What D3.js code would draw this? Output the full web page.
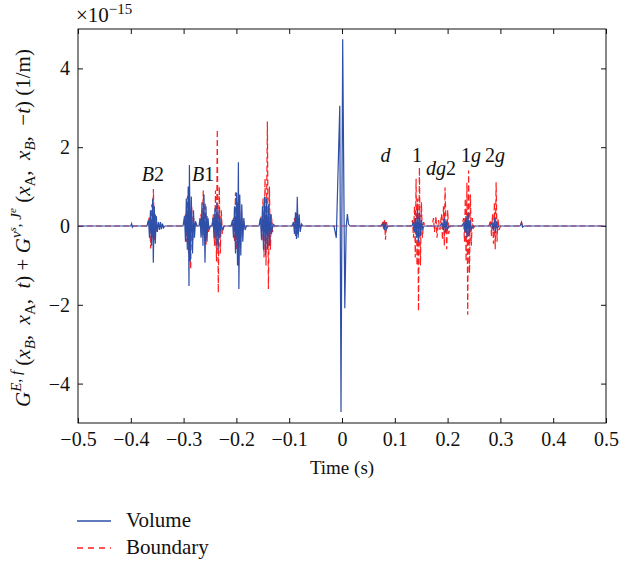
<!DOCTYPE html>
<html>
<head>
<meta charset="utf-8">
<script src="https://cdn.jsdelivr.net/npm/d3@7/dist/d3.min.js"></script>
<style>
  body { margin: 0; background: #fff; }
  svg text { font-family: "Liberation Serif", "Times New Roman", serif; fill: #111; }
</style>
</head>
<body>
<div id="chart"></div>
<script>
// time (s), amplitude (x1e-15 1/m)
var volume = [
  [-0.5, 0],
  [-0.4000, 0], [-0.3985, 0.06], [-0.3970, -0.03], [-0.3955, 0],
  // B2
  [-0.3693, 0], [-0.3665, 0.15], [-0.3646, -0.3], [-0.3627, 0.4], [-0.3608, -0.5], [-0.3585, 0.70], [-0.3574, -0.93],
  [-0.3555, 0.5], [-0.3536, -0.45], [-0.3517, 0.25], [-0.3498, -0.15], [-0.3475, 0.1], [-0.3456, -0.1], [-0.3438, 0.1],
  [-0.3419, -0.08], [-0.3400, 0.06], [-0.3381, -0.05], [-0.3352, 0],
  [-0.3011, 0], [-0.2983, 0.25], [-0.2964, -0.4], [-0.2949, 0.7], [-0.2930, -0.6], [-0.2913, 1.0], [-0.2898, -1.52],
  [-0.2890, 1.55], [-0.2873, -0.9], [-0.2854, 0.75], [-0.2831, -0.7], [-0.2813, 0.4], [-0.2794, -0.3], [-0.2775, 0.12], [-0.2746, 0],
  // B1
  [-0.2708, 0], [-0.2689, 0.2], [-0.2670, -0.3], [-0.2652, 0.6], [-0.2633, -0.5], [-0.2614, 0.8], [-0.2595, -0.93],
  [-0.2576, 0.5], [-0.2557, -0.4], [-0.2538, 0.2], [-0.2519, -0.1], [-0.2491, 0],
  [-0.2462, 0], [-0.2443, 0.2], [-0.2424, -0.3], [-0.2405, 0.45], [-0.2386, -0.5], [-0.2367, 0.6], [-0.2348, -0.6],
  [-0.2330, 0.4], [-0.2311, -0.3], [-0.2292, 0.2], [-0.2273, -0.1], [-0.2235, 0],
  [-0.2102, 0], [-0.2074, 0.15], [-0.2055, -0.3], [-0.2036, 0.5], [-0.2017, -0.7], [-0.1998, 0.85], [-0.1979, -1.0],
  [-0.1962, 1.62], [-0.1953, -1.6], [-0.1936, 0.8], [-0.1917, -0.75], [-0.1898, 0.55], [-0.1879, -0.4], [-0.1860, 0.2],
  [-0.1837, -0.1], [-0.1809, 0],
  [-0.1572, 0], [-0.1544, 0.2], [-0.1525, -0.35], [-0.1506, 0.5], [-0.1487, -0.6], [-0.1468, 0.75], [-0.1449, -0.75],
  [-0.1430, 0.7], [-0.1411, -0.6], [-0.1392, 0.55], [-0.1373, -0.5], [-0.1354, 0.3], [-0.1335, -0.2], [-0.1307, 0.05], [-0.1269, 0],
  [-0.0947, 0], [-0.0919, 0.1], [-0.0900, -0.2], [-0.0881, 0.35], [-0.0862, -0.33], [-0.0847, 0.74], [-0.0830, -0.3],
  [-0.0811, 0.3], [-0.0792, -0.15], [-0.0767, 0.05], [-0.0739, 0],
  // direct arrival
  [-0.0152, 0], [-0.0108, -0.3], [-0.0042, 3.05], [-0.0019, -4.72], [0.0013, 4.74], [0.0053, -2.09], [0.0080, 0],
  [0.0102, 0.3], [0.0123, 0.05], [0.0152, 0],
  // d
  [0.0758, 0], [0.0786, 0.08], [0.0805, -0.1], [0.0824, 0.1], [0.0843, -0.08], [0.0871, 0],
  // 1
  [0.1326, 0], [0.1354, 0.1], [0.1373, -0.15], [0.1392, 0.2], [0.1411, -0.3], [0.1430, 0.43], [0.1449, -0.42],
  [0.1468, 0.35], [0.1487, -0.25], [0.1506, 0.15], [0.1525, -0.08], [0.1553, 0],
  // dg2
  [0.1856, 0], [0.1894, 0.08], [0.1922, -0.1], [0.1941, 0.2], [0.1960, -0.17], [0.1979, 0.12], [0.1998, -0.08], [0.2027, 0],
  // 1g
  [0.2273, 0], [0.2311, 0.1], [0.2330, -0.15], [0.2348, 0.25], [0.2367, -0.3], [0.2386, 0.34], [0.2405, -0.25],
  [0.2424, 0.15], [0.2443, -0.1], [0.2481, 0],
  // 2g
  [0.2803, 0], [0.2841, 0.08], [0.2869, -0.12], [0.2888, 0.2], [0.2907, -0.18], [0.2926, 0.12], [0.2945, -0.05], [0.2973, 0],
  [0.3371, 0], [0.3400, 0.08], [0.3419, -0.03], [0.3447, 0],
  [0.5, 0]
];

var boundary = [
  [-0.5, 0],
  [-0.3684, 0], [-0.3646, 0.25], [-0.3623, -0.57], [-0.3602, 0.55], [-0.3587, -0.3], [-0.3572, 0.94], [-0.3553, -0.35],
  [-0.3534, 0.3], [-0.3515, -0.15], [-0.3494, 0.05], [-0.3466, 0],
  [-0.2992, 0], [-0.2964, 0.3], [-0.2945, -0.4], [-0.2926, 0.76], [-0.2907, -0.7], [-0.2888, 0.6], [-0.2866, -1.1],
  [-0.2847, 0.5], [-0.2828, -0.4], [-0.2809, 0.2], [-0.2784, 0],
  [-0.2699, 0], [-0.2670, 0.3], [-0.2652, -0.25], [-0.2627, 0.9], [-0.2608, -0.3], [-0.2591, 0.6], [-0.2574, -0.47],
  [-0.2553, 0.25], [-0.2532, -0.15], [-0.2500, 0],
  [-0.2462, 0], [-0.2434, 0.3], [-0.2415, -0.5], [-0.2396, 0.9], [-0.2377, -0.9], [-0.2362, 2.45], [-0.2343, -1.69],
  [-0.2324, 1.0], [-0.2305, -0.7], [-0.2286, 0.4], [-0.2267, -0.2], [-0.2235, 0],
  [-0.2083, 0], [-0.2055, 0.2], [-0.2036, -0.4], [-0.2017, 0.85], [-0.1998, -0.6], [-0.1979, 0.6], [-0.1960, -1.0],
  [-0.1941, 0.5], [-0.1922, -0.4], [-0.1903, 0.2], [-0.1875, 0],
  [-0.1563, 0], [-0.1534, 0.25], [-0.1515, -0.4], [-0.1496, 0.7], [-0.1477, -0.8], [-0.1458, 1.2], [-0.1439, -1.0],
  [-0.1413, 2.65], [-0.1394, -1.6], [-0.1375, 1.0], [-0.1356, -0.6], [-0.1337, 0.3], [-0.1316, -0.15], [-0.1288, 0],
  [-0.0928, 0], [-0.0900, 0.2], [-0.0881, -0.25], [-0.0862, 0.35], [-0.0843, -0.2], [-0.0824, 0.15], [-0.0795, 0],
  [0.0739, 0], [0.0767, 0.12], [0.0786, -0.1], [0.0805, 0.15], [0.0824, -0.35], [0.0843, 0.1], [0.0862, -0.05], [0.0890, 0],
  [0.1307, 0], [0.1335, 0.15], [0.1354, -0.3], [0.1373, 0.5], [0.1388, -0.8], [0.1403, 1.2], [0.1420, -1.0],
  [0.1434, 0.7], [0.1449, -2.16], [0.1466, 1.49], [0.1485, -1.0], [0.1504, 0.6], [0.1523, -0.3], [0.1544, 0.1], [0.1572, 0],
  [0.1705, 0], [0.1733, 0.2], [0.1752, -0.15], [0.1780, 0.25], [0.1799, -0.3], [0.1828, 0.15], [0.1856, -0.1],
  [0.1884, 0.3], [0.1903, -0.35], [0.1922, 0.5], [0.1938, -0.5], [0.1951, 0.98], [0.1983, -0.59], [0.2002, 0.4],
  [0.2021, -0.2], [0.2045, 0],
  [0.2273, 0], [0.2301, 0.2], [0.2320, -0.4], [0.2335, 0.7], [0.2350, -0.9], [0.2366, 1.1], [0.2381, -2.25],
  [0.2398, 1.41], [0.2415, -1.2], [0.2432, 0.8], [0.2449, -0.5], [0.2468, 0.2], [0.2491, -0.05], [0.2519, 0],
  [0.2784, 0], [0.2813, 0.15], [0.2831, -0.25], [0.2850, 0.3], [0.2869, -0.45], [0.2886, 0.6], [0.2902, -0.59],
  [0.2919, 1.11], [0.2936, -0.4], [0.2955, 0.2], [0.2973, -0.1], [0.3002, 0],
  [0.3371, 0], [0.3400, 0.1], [0.3419, 0],
  [0.5, 0]
];

var xTicks = [-0.5, -0.4, -0.3, -0.2, -0.1, 0, 0.1, 0.2, 0.3, 0.4, 0.5];
var yTicks = [-4, -2, 0, 2, 4];

// event labels: [main text, tail text, t, amplitude]
var events = [
  ["B", "2", -0.358, 1.15],
  ["B", "1", -0.263, 1.15],
  ["d", "", 0.0824, 1.63],
  ["", "1", 0.142, 1.63],
  ["dg", "2", 0.1875, 1.30],
  ["1", "g", 0.2443, 1.63],
  ["2", "g", 0.290, 1.63]
];

var legendItems = ["Volume", "Boundary"];

(function() {
  var width = 620,
      height = 563;
  var pl = 78, pr = 606, pt = 29, pb = 423;

  var x = d3.scaleLinear().domain([-0.5, 0.5]).range([pl, pr]);
  var y = d3.scaleLinear().domain([-5, 5]).range([pb, pt]);

  var svg = d3.select("#chart").append("svg")
    .attr("width", width)
    .attr("height", height);

  var line = d3.line()
    .x(function(d) { return x(d[0]); })
    .y(function(d) { return y(d[1]); });

  var fmtX = function(d) { return d === 0 ? "0" : d3.format(".1f")(d); };

  // axes, MATLAB style: ticks inside, box on
  var tickLen = 5;
  svg.append("g")
    .attr("transform", "translate(0," + pb + ")")
    .call(d3.axisBottom(x).tickValues(xTicks).tickSizeInner(-tickLen).tickSizeOuter(0).tickPadding(9).tickFormat(fmtX))
    .call(function(g) { g.select(".domain").remove(); })
    .selectAll("text").style("font-size", "20px").attr("fill", "#111");

  svg.append("g")
    .attr("transform", "translate(0," + pt + ")")
    .call(d3.axisTop(x).tickValues(xTicks).tickSizeInner(-tickLen).tickSizeOuter(0).tickFormat(""))
    .call(function(g) { g.select(".domain").remove(); });

  svg.append("g")
    .attr("transform", "translate(" + pl + ",0)")
    .call(d3.axisLeft(y).tickValues(yTicks).tickSizeInner(-tickLen).tickSizeOuter(0).tickPadding(8).tickFormat(d3.format("d")))
    .call(function(g) { g.select(".domain").remove(); })
    .selectAll("text").style("font-size", "20px").attr("fill", "#111");

  svg.append("g")
    .attr("transform", "translate(" + pr + ",0)")
    .call(d3.axisRight(y).tickValues(yTicks).tickSizeInner(-tickLen).tickSizeOuter(0).tickFormat(""))
    .call(function(g) { g.select(".domain").remove(); });

  svg.selectAll(".tick line").attr("stroke", "#111");

  // data lines
  var plot = svg.append("g");

  plot.append("path")
    .datum(boundary)
    .attr("fill", "none")
    .attr("stroke", "#ff1f1f")
    .attr("stroke-width", 1.2)
    .attr("stroke-dasharray", "6,3")
    .attr("d", line);

  plot.append("path")
    .datum(volume)
    .attr("fill", "none")
    .attr("stroke", "#2e4fa8")
    .attr("stroke-width", 1.2)
    .attr("d", line);

  svg.append("rect")
    .attr("x", pl).attr("y", pt)
    .attr("width", pr - pl).attr("height", pb - pt)
    .attr("fill", "none").attr("stroke", "#111").attr("stroke-width", 1);

  // event labels
  var lab = svg.append("g").selectAll("text")
    .data(events)
    .enter().append("text")
    .attr("x", function(d) { return x(d[2]); })
    .attr("y", function(d) { return y(d[3]); })
    .attr("text-anchor", "middle")
    .style("font-size", "20px");
  lab.append("tspan")
    .style("font-style", function(d) { return /[A-Za-z]/.test(d[0]) ? "italic" : "normal"; })
    .text(function(d) { return d[0]; });
  lab.append("tspan")
    .style("font-style", function(d) { return /[A-Za-z]/.test(d[1]) ? "italic" : "normal"; })
    .text(function(d) { return d[1]; });

  // exponent
  var ex = svg.append("text").attr("x", pl - 2).attr("y", 22).style("font-size", "21px");
  ex.append("tspan").text("×10");
  ex.append("tspan").attr("dy", -8).style("font-size", "15px").text("−15");

  // x label
  svg.append("text")
    .attr("x", x(0)).attr("y", 474)
    .attr("text-anchor", "middle")
    .style("font-size", "19px")
    .text("Time (s)");

  // y label with sub/superscripts
  var yl = svg.append("text")
    .attr("transform", "translate(30," + ((pt + pb) / 2 + 2) + ") rotate(-90)")
    .attr("text-anchor", "middle")
    .style("font-size", "21px");

  var parts = [
    ["G", "i", 0, 21], ["E", "i", -9, 15], [", ", "n", 0, 15], ["f", "i", 0, 15], [" (", "n", 9, 21],
    ["x", "i", 0, 21], ["B", "i", 5, 15], [",  ", "n", -5, 21], ["x", "i", 0, 21], ["A", "n", 5, 15],
    [",  ", "n", -5, 21], ["t", "i", 0, 21], [") + ", "n", 0, 21],
    ["G", "i", 0, 21], ["v", "i", -9, 15], ["s", "i", -5, 11], [", ", "n", 5, 15], ["J", "i", 0, 15], ["e", "i", -5, 11],
    [" (", "n", 14, 21], ["x", "i", 0, 21], ["A", "n", 5, 15], [",  ", "n", -5, 21], ["x", "i", 0, 21], ["B", "i", 5, 15],
    [",  −", "n", -5, 21], ["t", "i", 0, 21], [") (1/m)", "n", 0, 21]
  ];
  parts.forEach(function(p) {
    yl.append("tspan")
      .attr("dy", p[2])
      .style("font-style", p[1] === "i" ? "italic" : "normal")
      .style("font-size", p[3] + "px")
      .style("white-space", "pre")
      .text(p[0]);
  });

  // legend
  var lg = svg.append("g");
  legendItems.forEach(function(name, i) {
    var ly = 521 + i * 27;
    lg.append("line")
      .attr("x1", 77).attr("x2", 111).attr("y1", ly).attr("y2", ly)
      .attr("stroke", i === 0 ? "#2e4fa8" : "#ff1f1f")
      .attr("stroke-width", 1.4)
      .attr("stroke-dasharray", i === 0 ? null : "6,5");
    lg.append("text")
      .attr("x", 126).attr("y", ly + 6)
      .style("font-size", "21px")
      .text(name);
  });
})();
</script>
</body>
</html>
